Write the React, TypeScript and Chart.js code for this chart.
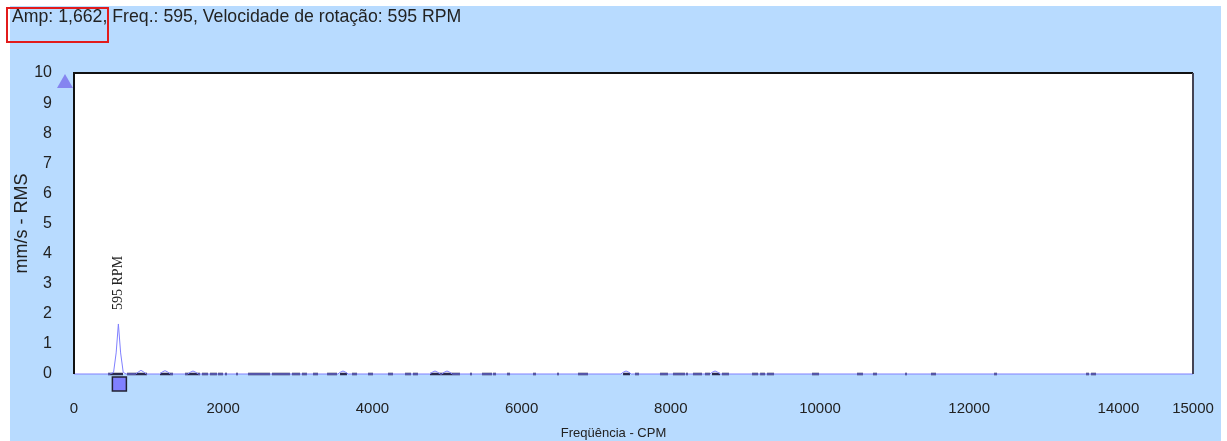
import React, { useEffect, useRef } from "react";
import { Chart, registerables } from "chart.js";

Chart.register(...registerables);

// ---- axis ranges & ticks ----
const xMin = 0;
const xMax = 15000;
const yMin = 0;
const yMax = 10;
const xTickValues = [0, 2000, 4000, 6000, 8000, 10000, 12000, 14000, 15000];
const yTickValues = [0, 1, 2, 3, 4, 5, 6, 7, 8, 9, 10];

// ---- texts ----
const headerText = "Amp: 1,662, Freq.: 595, Velocidade de rotação: 595 RPM";
const xAxisTitle = "Freqüência - CPM";
const yAxisTitle = "mm/s - RMS";
const peakLabel = "595 RPM";

// ---- cursor / peak ----
const cursorFreq = 595;
const cursorAmp = 1.662;

// ---- spectrum (frequency CPM, amplitude mm/s RMS) ----
const spectrumFreq = [
  0, 480, 530, 565, 595, 625, 660, 700,
  828, 863, 898, 933, 968,
  1150, 1185, 1220, 1255, 1290,
  1525, 1560, 1595, 1630, 1665,
  3536, 3571, 3606, 3641, 3676,
  4769, 4804, 4839, 4874, 4909,
  4930, 4965, 5000, 5035, 5070,
  7330, 7365, 7400, 7435, 7470,
  8523, 8558, 8593, 8628, 8663,
  15000,
];
const spectrumAmp = [
  0, 0, 0.05, 0.7, 1.662, 0.7, 0.05, 0,
  0, 0.07, 0.12, 0.07, 0,
  0, 0.07, 0.11, 0.07, 0,
  0, 0.06, 0.1, 0.06, 0,
  0, 0.06, 0.1, 0.06, 0,
  0, 0.06, 0.1, 0.06, 0,
  0, 0.06, 0.1, 0.06, 0,
  0, 0.06, 0.1, 0.06, 0,
  0, 0.06, 0.1, 0.06, 0,
  0,
];

// ---- dark marker bands along the baseline (start / end CPM) ----
const bandStart = [
  456, 710, 1153, 1488, 1716, 1823, 1930, 2024, 2172, 2332, 2654, 2922, 3056,
  3204, 3392, 3566, 3727, 3941, 4209, 4437, 4544, 4772, 5308, 5469, 5617, 5804,
  6153, 6475, 6756, 7360, 7520, 7855, 8029, 8203, 8297, 8458, 8552, 8686, 9089,
  9197, 9290, 9893, 10496, 10710, 11140, 11488, 12333, 13566, 13633,
];
const bandEnd = [
  657, 979, 1327, 1689, 1796, 1917, 1997, 2051, 2198, 2627, 2895, 3030, 3123,
  3271, 3526, 3660, 3794, 4008, 4276, 4517, 4611, 5174, 5335, 5603, 5657, 5845,
  6193, 6501, 6890, 7453, 7574, 7962, 8190, 8230, 8418, 8525, 8659, 8780, 9170,
  9264, 9384, 9987, 10576, 10764, 11166, 11555, 12373, 13606, 13700,
];

const BLUE_BG = "#b8dbff";
const LINE_COLOR = "#8080ff";
const TEXT_COLOR = "#222222";

const decorPlugin = {
  id: "decor",
  beforeDraw(chart: any) {
    const { ctx, chartArea } = chart;
    ctx.save();
    ctx.fillStyle = "#ffffff";
    ctx.fillRect(0, 0, chart.width, chart.height);
    ctx.fillStyle = BLUE_BG;
    ctx.fillRect(10, 6, chart.width - 16, chart.height - 6);
    ctx.fillStyle = "#ffffff";
    ctx.fillRect(chartArea.left, chartArea.top, chartArea.right - chartArea.left, chartArea.bottom - chartArea.top);
    ctx.restore();
  },
  afterDraw(chart: any) {
    const { ctx, chartArea, scales } = chart;
    const xs = scales.x;
    const ys = scales.y;
    ctx.save();
    // frame
    ctx.lineWidth = 2;
    ctx.strokeStyle = "#111111";
    ctx.beginPath();
    ctx.moveTo(chartArea.left, chartArea.bottom);
    ctx.lineTo(chartArea.left, chartArea.top);
    ctx.lineTo(chartArea.right, chartArea.top);
    ctx.stroke();
    ctx.strokeStyle = "#444455";
    ctx.beginPath();
    ctx.moveTo(chartArea.right, chartArea.top);
    ctx.lineTo(chartArea.right, chartArea.bottom);
    ctx.stroke();

    // header text
    ctx.fillStyle = TEXT_COLOR;
    ctx.font = "17.7px 'Liberation Sans', Arial, sans-serif";
    ctx.textAlign = "left";
    ctx.textBaseline = "middle";
    ctx.fillText(headerText, 12, 17);

    // red highlight box
    ctx.strokeStyle = "#e21b1b";
    ctx.lineWidth = 2;
    ctx.strokeRect(7, 8, 101, 34);

    // x axis title centered on the panel
    ctx.fillStyle = TEXT_COLOR;
    ctx.font = "13px 'Liberation Sans', Arial, sans-serif";
    ctx.textAlign = "center";
    ctx.textBaseline = "middle";
    ctx.fillText(xAxisTitle, chart.width / 2, xs.bottom - 8);

    // peak label (rotated)
    const px = xs.getPixelForValue(cursorFreq);
    const py = ys.getPixelForValue(cursorAmp);
    ctx.save();
    ctx.translate(px, py - 14);
    ctx.rotate(-Math.PI / 2);
    ctx.font = "14px 'Liberation Serif', 'Times New Roman', serif";
    ctx.textAlign = "left";
    ctx.textBaseline = "middle";
    ctx.fillStyle = TEXT_COLOR;
    ctx.fillText(peakLabel, 0, 0);
    ctx.restore();

    // cursor square under the axis
    const sq = 14;
    ctx.fillStyle = "#8080ff";
    ctx.strokeStyle = "#222233";
    ctx.lineWidth = 1.5;
    ctx.fillRect(px + 1 - sq / 2, chartArea.bottom + 3, sq, sq);
    ctx.strokeRect(px + 1 - sq / 2, chartArea.bottom + 3, sq, sq);

    // scale marker triangle at top left
    const ty = ys.getPixelForValue(yMax);
    const tx = chartArea.left - 9;
    ctx.fillStyle = "#8585f0";
    ctx.beginPath();
    ctx.moveTo(tx, ty + 1);
    ctx.lineTo(tx + 8, ty + 15);
    ctx.lineTo(tx - 8, ty + 15);
    ctx.closePath();
    ctx.fill();
    ctx.restore();
  },
};

export default function App() {
  const canvasRef = useRef<HTMLCanvasElement | null>(null);

  useEffect(() => {
    if (!canvasRef.current) return;
    const spectrum = spectrumFreq.map((x, i) => ({ x, y: spectrumAmp[i] }));
    const bands: { x: number; y: number | null }[] = [];
    bandStart.forEach((s, i) => {
      bands.push({ x: s, y: 0 });
      bands.push({ x: bandEnd[i], y: 0 });
      bands.push({ x: bandEnd[i] + 1, y: null });
    });

    const chart = new Chart(canvasRef.current, {
      type: "line",
      data: {
        datasets: [
          {
            label: "bands",
            data: bands as any,
            borderColor: "#2a2a50",
            borderWidth: 2.5,
            pointRadius: 0,
            spanGaps: false,
            clip: false as any,
            order: 2,
          },
          {
            label: "spectrum",
            data: spectrum,
            borderColor: LINE_COLOR,
            borderWidth: 1,
            pointRadius: 0,
            tension: 0,
            clip: false as any,
            order: 1,
          },
        ],
      },
      options: {
        animation: false,
        responsive: false,
        maintainAspectRatio: false,
        layout: { padding: { left: 10, top: 73, right: 34, bottom: 0 } },
        plugins: {
          legend: { display: false },
          tooltip: { enabled: false },
          title: { display: false },
        },
        scales: {
          x: {
            type: "linear",
            min: xMin,
            max: xMax,
            grid: { display: false, drawTicks: false },
            border: { display: false },
            afterBuildTicks: (scale: any) => {
              scale.ticks = xTickValues.map((v) => ({ value: v }));
            },
            afterFit: (scale: any) => {
              scale.height = 67;
              scale.paddingLeft = 0;
              scale.paddingRight = 0;
            },
            ticks: {
              autoSkip: false,
              maxRotation: 0,
              padding: 26,
              color: TEXT_COLOR,
              font: { family: "'Liberation Sans', Arial, sans-serif", size: 15 },
              callback: (v: any) => String(v),
            },
          },
          y: {
            type: "linear",
            min: yMin,
            max: yMax,
            grid: { display: false, drawTicks: false },
            border: { display: false },
            afterBuildTicks: (scale: any) => {
              scale.ticks = yTickValues.map((v) => ({ value: v }));
            },
            afterFit: (scale: any) => {
              scale.width = 64;
              scale.paddingTop = 0;
              scale.paddingBottom = 0;
            },
            title: {
              display: true,
              text: yAxisTitle,
              color: TEXT_COLOR,
              font: { family: "'Liberation Sans', Arial, sans-serif", size: 18 },
              padding: { top: 1, bottom: 0 },
            },
            ticks: {
              padding: 22,
              color: TEXT_COLOR,
              font: { family: "'Liberation Sans', Arial, sans-serif", size: 16 },
              callback: (v: any) => String(v),
            },
          },
        },
      },
      plugins: [decorPlugin],
    });
    return () => chart.destroy();
  }, []);

  return (
    <div style={{ position: "absolute", left: 0, top: 0, width: 1227, height: 441 }}>
      <canvas ref={canvasRef} width={1227} height={441} style={{ display: "block" }} />
    </div>
  );
}
